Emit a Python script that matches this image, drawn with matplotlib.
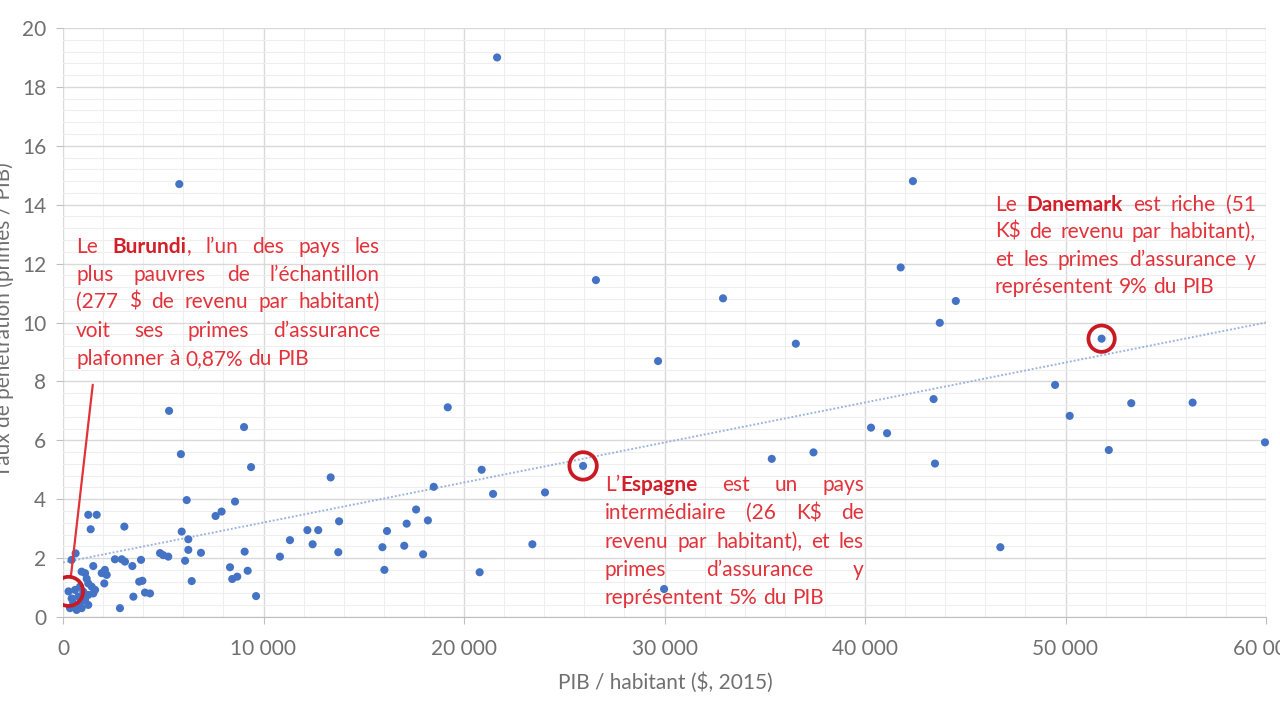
import matplotlib
matplotlib.use("Agg")
import matplotlib.pyplot as plt
from matplotlib.ticker import MultipleLocator, FuncFormatter

# PIB / habitant ($, 2015) vs taux de penetration de l'assurance (% du PIB)
gdp = [277, 600, 850, 1260, 1430, 1510, 1260, 1100, 850, 510, 350, 680, 930, 1260,
       1010, 760, 430, 1600, 1180,
       630, 430, 1510, 2090, 1930, 2180, 930, 1100, 2590, 2930, 3090, 3460, 3890,
       2060, 3960, 3800, 3510, 4090, 4340, 2840, 4840, 5000, 5250,
       1260, 1680, 1380, 3060,
       6170, 8580, 7610, 7910, 5920, 6250, 6250, 6880, 6090, 6420, 9060, 8330,
       9210, 8440, 8690, 9630, 10820, 11320,
       5290, 5880, 9030, 9380, 5800,
       13350, 19190, 20880, 18490, 21450, 24040, 17610, 17140, 18200, 13770,
       12190, 12730, 12450, 13730, 16160, 15930, 17020, 17960, 16030, 20780,
       23410, 29980,
       21650, 42390, 41780, 26580, 32920, 44530, 43730, 29680, 36550, 51800,
       49480, 43420, 50210, 53280, 56340, 40300, 41100, 59950, 43490, 52160,
       35350, 37430, 46750, 25940]
rate = [0.87, 0.92, 1.03, 1.14, 1.03, 0.80, 0.75, 0.58, 0.47, 0.47, 0.30, 0.24, 0.30, 0.41,
        0.86, 0.69, 0.63, 0.92, 1.30,
        2.16, 1.94, 1.73, 1.60, 1.49, 1.43, 1.54, 1.49, 1.96, 1.96, 1.88, 1.73, 1.94,
        1.14, 1.23, 1.20, 0.69, 0.83, 0.80, 0.30, 2.17, 2.10, 2.05,
        3.47, 3.47, 2.98, 3.07,
        3.97, 3.92, 3.43, 3.58, 2.90, 2.64, 2.28, 2.18, 1.91, 1.22, 2.22, 1.69,
        1.57, 1.29, 1.37, 0.71, 2.05, 2.61,
        7.00, 5.53, 6.45, 5.09, 14.70,
        4.74, 7.12, 5.00, 4.42, 4.18, 4.23, 3.65, 3.17, 3.28, 3.25,
        2.95, 2.95, 2.47, 2.20, 2.92, 2.37, 2.42, 2.13, 1.60, 1.52,
        2.47, 0.95,
        19.00, 14.80, 11.87, 11.44, 10.82, 10.73, 9.99, 8.69, 9.28, 9.45,
        7.88, 7.40, 6.83, 7.26, 7.28, 6.43, 6.24, 5.93, 5.21, 5.67,
        5.37, 5.59, 2.37, 5.13]

# linear trend
trend_x = [0, 60000]
trend_y = [1.85, 10.0]

# highlighted countries: Burundi, Espagne, Danemark
hl_x = [277, 25940, 51800]
hl_y = [0.87, 5.13, 9.45]

burundi_txt = ["Le *Burundi*, l’un des pays les",
               "plus pauvres de l’échantillon",
               "(277 $ de revenu par habitant)",
               "voit ses primes d’assurance",
               "plafonner à 0,87% du PIB"]
espagne_txt = ["L’*Espagne* est un pays",
               "intermédiaire (26 K$ de",
               "revenu par habitant), et les",
               "primes d’assurance y",
               "représentent 5% du PIB"]
danemark_txt = ["Le *Danemark* est riche (51",
                "K$ de revenu par habitant),",
                "et les primes d’assurance y",
                "représentent 9% du PIB"]

W, H = 1280, 720
FONT = ["Lato", "DejaVu Sans"]
RED = "#e2323a"
BOLDRED = "#d21f2a"
GREY = "#707070"
plt.rcParams['font.family'] = FONT


def justified(fig, lines, left, right, baselines, size):
    r = fig.canvas.get_renderer()

    def width(s, bold):
        t = fig.text(0, 0, s, fontsize=size, fontweight='bold' if bold else 'normal')
        w = t.get_window_extent(r).width
        t.remove()
        return w

    space = width('a a', False) - width('aa', False)
    for i, (line, yb) in enumerate(zip(lines, baselines)):
        words = []
        for word in line.split(' '):
            segs = [(s, k % 2 == 1) for k, s in enumerate(word.split('*')) if s]
            words.append([(s, b, width(s, b)) for s, b in segs])
        wsum = [sum(seg[2] for seg in wd) for wd in words]
        if i == len(lines) - 1 or len(words) < 2:
            gap = space
        else:
            gap = (right - left - sum(wsum)) / (len(words) - 1)
        x = left
        for wd, wt in zip(words, wsum):
            xx = x
            for s, b, sw in wd:
                fig.text(xx / W, 1 - yb / H, s, fontsize=size,
                         color=BOLDRED if b else RED,
                         fontweight='bold' if b else 'normal', va='baseline', ha='left')
                xx += sw + (1 if b else 0)
            x += wt + gap


fig = plt.figure(figsize=(12.8, 7.2), dpi=100)
ax = fig.add_axes([63 / W, 103 / H, 1203 / W, 589 / H])

ax.set_xlim(0, 60000)
ax.set_ylim(0, 20)
ax.xaxis.set_major_locator(MultipleLocator(10000))
ax.xaxis.set_minor_locator(MultipleLocator(2000))
ax.yaxis.set_major_locator(MultipleLocator(2))
ax.yaxis.set_minor_locator(MultipleLocator(0.4))
ax.xaxis.set_major_formatter(FuncFormatter(lambda v, p: f"{int(v):,}".replace(',', ' ')))
ax.grid(True, which='major', color='#d9d9d9', lw=1.0)
ax.grid(True, which='minor', color='#eeeeee', lw=0.8)
ax.set_axisbelow(True)
for s in ['top', 'right', 'left']:
    ax.spines[s].set_visible(False)
ax.spines['bottom'].set_color('#bfbfbf')
ax.tick_params(which='major', length=5, color='#bfbfbf', labelcolor=GREY, labelsize=15)
ax.tick_params(axis='x', pad=11)
ax.tick_params(axis='y', pad=7)
ax.tick_params(which='minor', length=0)

ax.plot(trend_x, trend_y, ls=(0, (1, 1)), color='#9fb4df', lw=1.4, zorder=2)
ax.scatter(gdp, rate, s=34, color='#4472c4', edgecolors='none', zorder=3, clip_on=False)
ax.scatter(hl_x, hl_y, s=[440, 390, 360], facecolors='none', edgecolors='#c81a22',
           linewidths=2.7, zorder=4)
ax.annotate('', xy=(380, 1.3), xytext=(1500, 7.98),
            arrowprops=dict(arrowstyle='-', color=RED, lw=1.6))

fig.text(665 / W, 1 - 683 / H, "PIB / habitant ($, 2015)", fontsize=15, color=GREY,
         ha='center', va='center')
fig.text(4 / W, 1 - 320 / H, "Taux de pénétration (primes / PIB)", fontsize=15,
         color=GREY, rotation=90, ha='center', va='center')

justified(fig, burundi_txt, 76, 380, [253, 281, 308, 337, 365], 15)
justified(fig, espagne_txt, 605, 864, [491, 519, 548, 576, 604], 15)
justified(fig, danemark_txt, 995, 1256, [211, 238, 266, 293], 15)

fig.savefig("out.png", dpi=100)
